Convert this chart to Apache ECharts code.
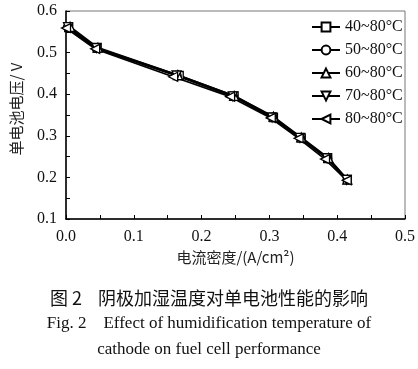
<!DOCTYPE html>
<html><head><meta charset="utf-8">
<script src="https://cdn.jsdelivr.net/npm/echarts@6/dist/echarts.min.js"></script>
<style>html,body{margin:0;padding:0;background:#fff}#c{width:418px;height:369px}</style>
</head><body><div id="c"></div>
<script>
const seriesNames = ['40~80°C','50~80°C','60~80°C','70~80°C','80~80°C'];
const x40 = [0.004,0.046,0.167,0.248,0.306,0.347,0.386,0.415];
const y40 = [0.560,0.511,0.445,0.396,0.344,0.295,0.245,0.195];
const x50 = [0.002,0.045,0.164,0.247,0.305,0.346,0.386,0.415];
const y50 = [0.561,0.510,0.444,0.395,0.345,0.295,0.246,0.194];
const x60 = [0.006,0.047,0.165,0.248,0.306,0.347,0.387,0.415];
const y60 = [0.562,0.512,0.446,0.396,0.346,0.296,0.247,0.195];
const x70 = [0.003,0.045,0.163,0.246,0.304,0.345,0.385,0.414];
const y70 = [0.561,0.511,0.445,0.395,0.344,0.295,0.246,0.194];
const x80 = [0.000,0.043,0.158,0.242,0.302,0.343,0.382,0.414];
const y80 = [0.559,0.509,0.442,0.394,0.343,0.294,0.244,0.193];
const xTicks = [0.0,0.1,0.2,0.3,0.4,0.5];
const yTicks = [0.1,0.2,0.3,0.4,0.5,0.6];

const xs = [x40,x50,x60,x70,x80];
const ys = [y40,y50,y60,y70,y80];
const symbols = ['rect','circle','triangle','triangle','triangle'];
const rots = [0,0,0,180,90];
const sizes = [8,8,9,9,9];

const serif = '"Liberation Serif","Times New Roman",serif';
const cjk = '"Noto Sans CJK SC","Noto Sans",sans-serif';
const isMajor = (v, ticks) => ticks.some(t => Math.abs(t - v) < 1e-6);

const chart = echarts.init(document.getElementById('c'));
chart.setOption({
  animation: false,
  grid: {left: 66, right: 8, top: 11, bottom: 150, show: true, borderColor: '#777', borderWidth: 1},
  legend: {
    orient: 'vertical', left: 306, top: 14, itemWidth: 28, itemHeight: 11, itemGap: 7,
    textStyle: {fontFamily: serif, fontSize: 16, color: '#111', lineHeight: 15},
    data: seriesNames
  },
  xAxis: {
    type: 'value', min: 0, max: 0.5, interval: 0.05,
    name: '电流密度/(A/cm²)', nameLocation: 'middle', nameGap: 31,
    nameTextStyle: {fontFamily: cjk, fontSize: 15, color: '#222'},
    axisLine: {show: true, lineStyle: {color: '#000', width: 1.5}},
    axisTick: {show: true, inside: true, length: 4, lineStyle: {color: '#000'}},
    axisLabel: {fontFamily: serif, fontSize: 16, color: '#111', margin: 10,
      formatter: v => isMajor(v, xTicks) ? v.toFixed(1) : ''},
    splitLine: {show: false}
  },
  yAxis: {
    type: 'value', min: 0.1, max: 0.6, interval: 0.05,
    name: '单电池电压/ V', nameLocation: 'middle', nameGap: 42, nameRotate: 90,
    nameTextStyle: {fontFamily: cjk, fontSize: 15, color: '#222', padding: [0, 0, 0, 12]},
    axisLine: {show: true, lineStyle: {color: '#000', width: 1.5}},
    axisTick: {show: true, inside: true, length: 4, lineStyle: {color: '#000'}},
    axisLabel: {fontFamily: serif, fontSize: 16, color: '#111', margin: 9,
      formatter: v => isMajor(v, yTicks) ? v.toFixed(1) : ''},
    splitLine: {show: false}
  },
  series: seriesNames.map((n, i) => ({
    name: n, type: 'line',
    data: xs[i].map((x, j) => [x, ys[i][j]]),
    symbol: symbols[i], symbolRotate: rots[i], symbolSize: sizes[i],
    showAllSymbol: true,
    lineStyle: {color: '#000', width: 1.8},
    itemStyle: {color: '#fff', borderColor: '#000', borderWidth: 1.3}
  })),
  graphic: [
    {type: 'text', left: 'center', top: 289, style: {text: '图 2    阴极加湿温度对单电池性能的影响', font: '18px ' + cjk, fill: '#111'}},
    {type: 'text', left: 'center', top: 315, style: {text: 'Fig. 2    Effect of humidification temperature of', font: '17px ' + serif, fill: '#111'}},
    {type: 'text', left: 'center', top: 341, style: {text: 'cathode on fuel cell performance', font: '17px ' + serif, fill: '#111'}}
  ]
});
</script></body></html>
